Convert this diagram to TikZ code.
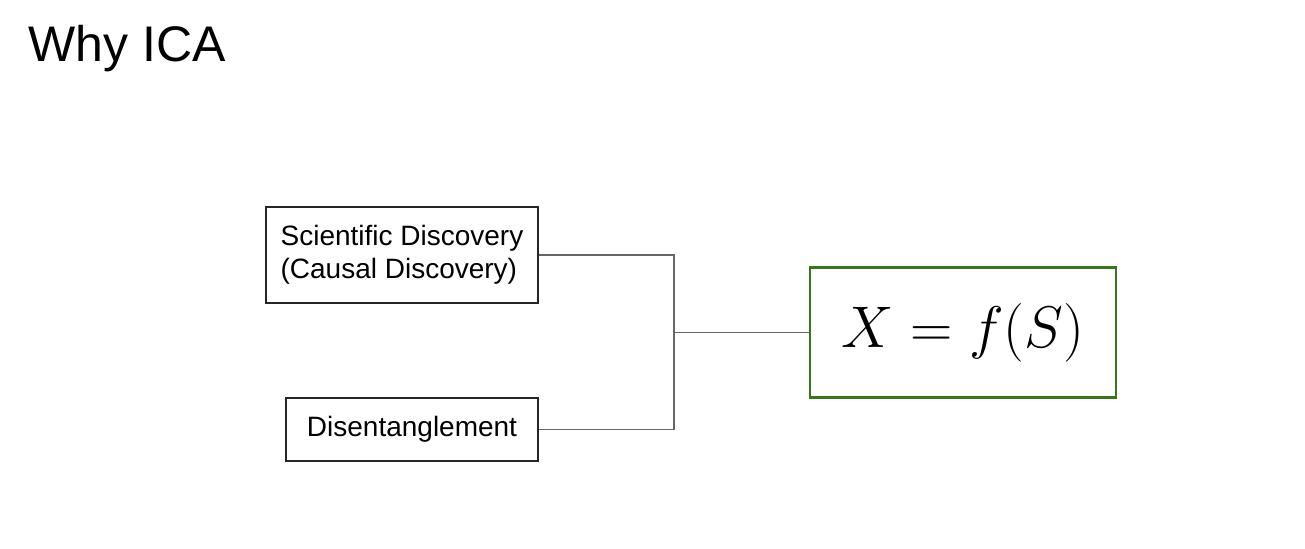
\documentclass[tikz,border=0pt]{standalone}
\usepackage{graphicx}
\usepackage{fontspec}
\setmainfont{Liberation Sans}
\usetikzlibrary{positioning}
\definecolor{boxgreen}{HTML}{38761D}
\definecolor{linegray}{HTML}{666666}
\begin{document}
\begin{tikzpicture}[
                        x=0.5pt, y=-0.5pt,
                        box/.style={rectangle, draw=black!85, line width=0.7pt, inner sep=0pt, font=\fontsize{14}{16.5}\selectfont},
                        conn/.style={draw=linegray, line width=0.55pt}
                    ]
                    \useasboundingbox (0,0) rectangle (1305,548);
                    % Title
                    \node [anchor=base west, inner sep=0pt, font=\fontsize{25}{30}\selectfont] (title) at (28,61) {Why ICA};

                    % Blocks
                    \node [box, minimum width=136pt, minimum height=48pt, align=left] (sci) at (402,255) {Scientific Discovery\\(Causal Discovery)};
                    \node [box, minimum width=126pt, minimum height=31.5pt] (dis) at (412,429.5) {Disentanglement};
                    \node [rectangle, draw=boxgreen, line width=1.2pt, minimum width=153pt, minimum height=65pt, inner sep=0pt] (eq) at (963,332.5) {\scalebox{1.18}{\fontsize{24.88}{28}\selectfont $X = f(S)$}};
                    \coordinate (join) at (674,332.5);

                    % Connections
                    \draw [conn] (sci.east) -| (join);
                    \draw [conn] (dis.east) -| (join);
                    \draw [conn] (join) -- (eq.west);
                \end{tikzpicture}
\end{document}
